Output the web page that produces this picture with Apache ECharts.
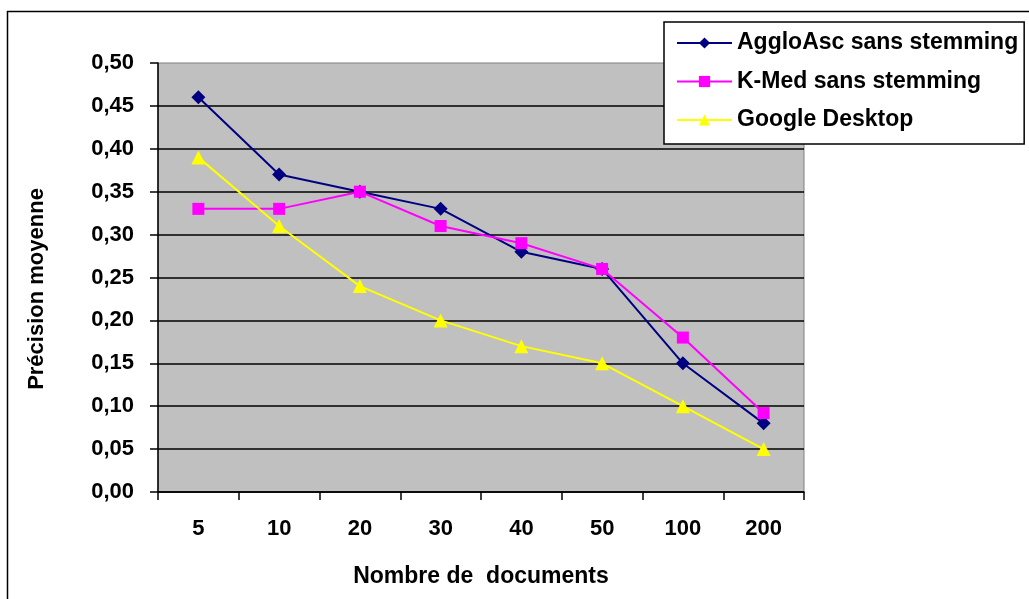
<!DOCTYPE html>
<html>
<head>
<meta charset="utf-8">
<script src="https://cdn.jsdelivr.net/npm/echarts@6/dist/echarts.min.js"></script>
<style>html,body{margin:0;padding:0;background:#fff;}#c{width:1029px;height:599px;}</style>
</head>
<body>
<div id="c"></div>
<script>
const categories = ['5', '10', '20', '30', '40', '50', '100', '200'];
const aggloAsc = [0.46, 0.37, 0.35, 0.33, 0.28, 0.26, 0.15, 0.08];
const kMed = [0.33, 0.33, 0.35, 0.31, 0.29, 0.26, 0.18, 0.092];
const googleDesktop = [0.39, 0.31, 0.24, 0.20, 0.17, 0.15, 0.10, 0.05];
const seriesNames = ['AggloAsc sans stemming', 'K-Med sans stemming', 'Google Desktop'];
const xTitle = 'Nombre de  documents';
const yTitle = 'Précision moyenne';

const FONT = '"Liberation Sans", Arial, sans-serif';
const chart = echarts.init(document.getElementById('c'), null, {renderer: 'canvas'});
chart.setOption({
  animation: false,
  backgroundColor: '#ffffff',
  textStyle: {fontFamily: FONT},
  grid: {
    left: 158, top: 63, right: 225, bottom: 107,
    show: true, backgroundColor: '#c0c0c0', borderColor: '#808080', borderWidth: 1
  },
  graphic: [
    {type: 'rect', z: -10, shape: {x: 7.5, y: 11.5, width: 1100, height: 700},
     style: {fill: null, stroke: '#000', lineWidth: 1.5}},
    {type: 'text', x: 37, y: 289, rotation: Math.PI / 2,
     style: {text: yTitle, font: 'bold 22px ' + FONT, fill: '#000', align: 'center', verticalAlign: 'middle'}}
  ],
  legend: {
    orient: 'vertical', left: 664, top: 22,
    padding: [9, 6, 12, 12],
    backgroundColor: '#ffffff', borderColor: '#000', borderWidth: 1.5,
    itemWidth: 55, itemHeight: 14, itemGap: 14.5,
    textStyle: {fontFamily: FONT, fontWeight: 'bold', fontSize: 23, color: '#000', lineHeight: 24},
    data: seriesNames
  },
  xAxis: {
    type: 'category', data: categories, boundaryGap: true,
    name: xTitle, nameLocation: 'middle', nameGap: 73,
    nameTextStyle: {fontFamily: FONT, fontWeight: 'bold', fontSize: 23, color: '#000'},
    axisLine: {lineStyle: {color: '#000', width: 1.5}},
    axisTick: {show: true, interval: 0, length: 8, alignWithLabel: false, lineStyle: {color: '#000', width: 1.5}},
    axisLabel: {fontFamily: FONT, fontWeight: 'bold', fontSize: 22, color: '#000', margin: 26, interval: 0},
    splitLine: {show: false}
  },
  yAxis: {
    type: 'value', min: 0, max: 0.5, interval: 0.05,
    axisLine: {show: true, lineStyle: {color: '#000', width: 1.5}},
    axisTick: {show: true, length: 8, lineStyle: {color: '#000', width: 1.5}},
    axisLabel: {fontFamily: FONT, fontWeight: 'bold', fontSize: 22, color: '#000', margin: 24,
      formatter: v => v.toFixed(2).replace('.', ',')},
    splitLine: {show: true, showMaxLine: false, lineStyle: {color: '#000', width: 1.5}}
  },
  series: [
    {name: seriesNames[0], type: 'line', data: aggloAsc, symbol: 'diamond', symbolSize: 14,
     color: '#000080', lineStyle: {color: '#000080', width: 2}, itemStyle: {color: '#000080'}},
    {name: seriesNames[1], type: 'line', data: kMed, symbol: 'rect', symbolSize: 12,
     color: '#ff00ff', lineStyle: {color: '#ff00ff', width: 2}, itemStyle: {color: '#ff00ff'}},
    {name: seriesNames[2], type: 'line', data: googleDesktop, symbol: 'triangle', symbolSize: 14,
     color: '#ffff00', lineStyle: {color: '#ffff00', width: 2}, itemStyle: {color: '#ffff00'}}
  ]
});
</script>
</body>
</html>
